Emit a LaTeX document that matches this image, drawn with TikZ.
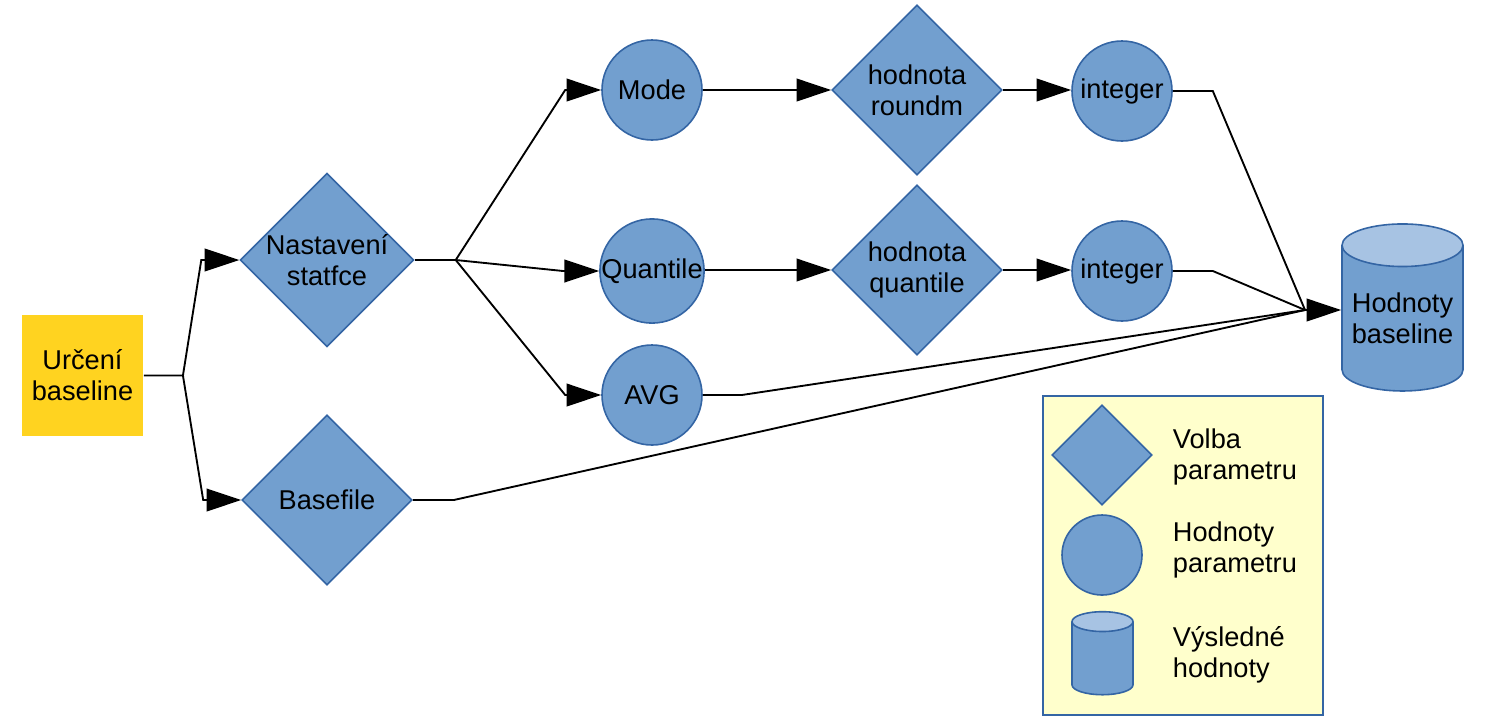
\documentclass[tikz,border=0pt]{standalone}
\usepackage{fontspec}
\setmainfont{Liberation Sans}
\usetikzlibrary{arrows.meta,positioning,shapes.geometric,calc}
\definecolor{nodefill}{HTML}{729FCF}
\definecolor{nodeline}{HTML}{3465A4}
\definecolor{cylend}{HTML}{A7C3E3}
\definecolor{startfill}{HTML}{FFD320}
\definecolor{legendfill}{HTML}{FFFFCC}

\begin{document}
\begin{tikzpicture}[x=0.75pt,y=-0.75pt,
      >={Triangle[length=26pt,width=17pt]},
      line width=1.4pt,
      every node/.style={font=\fontsize{20.4}{23.3}\selectfont,align=center,inner sep=0pt},
      start/.style={rectangle,fill=startfill,minimum width=90.75pt,minimum height=90.75pt},
      choice/.style={diamond,draw=nodeline,fill=nodefill,line width=1.2pt,aspect=1,
        minimum width=127.5pt,minimum height=127.5pt},
      value/.style={circle,draw=nodeline,fill=nodefill,line width=1.2pt,minimum size=75pt},
      store/.style={cylinder,shape border rotate=90,draw=nodeline,line width=1.2pt,
        cylinder uses custom fill,cylinder body fill=nodefill,cylinder end fill=cylend,
        aspect=0.42,minimum width=90.75pt,minimum height=125.25pt},
      legtext/.style={align=left,anchor=west}]
    \useasboundingbox (0,0) rectangle (1494,726);
    \node[start] (start) at (82.5,375.5) {Určení\\baseline};
    \node[choice] (stat) at (327,260) {Nastavení\\statfce};
    \node[choice] (base) at (327,500) {Basefile};
    \node[value] (mode) at (652,90) {Mode};
    \node[value] (quant) at (652,271) {Quantile};
    \node[value] (avg) at (652,395) {AVG};
    \node[choice] (roundm) at (917,90) {hodnota\\roundm};
    \node[choice] (qval) at (917,270) {hodnota\\quantile};
    \node[value] (intm) at (1122,91) {integer};
    \node[value] (intq) at (1122,271) {integer};
    \node[store] (res) at (1402.5,318.5) {Hodnoty\\baseline};
    % legenda
    \node[rectangle,draw=nodeline,fill=legendfill,line width=1pt,
      minimum width=210pt,minimum height=239.25pt] (legend) at (1183,555.5) {};
    \node[choice,minimum width=75pt,minimum height=75pt] (lchoice) at (1102,455) {};
    \node[value,minimum size=60pt] (lvalue) at (1102,555) {};
    \node[store,aspect=0.33,inner sep=22.5pt,minimum width=45.75pt,minimum height=62.25pt]
      (lstore) at (1102.5,663.5) {};
    \node[legtext] (tchoice) at (1172,457) {Volba\\parametru};
    \node[legtext] (tvalue) at (1172,550) {Hodnoty\\parametru};
    \node[legtext] (tstore) at (1172,655) {Výsledné\\hodnoty};
    % spojnice
    \coordinate (split1) at ($(start.east)+(39,0)$);
    \coordinate (split2) at ($(stat.east)+(41,0)$);
    \coordinate (merge) at (1305,310);
    \draw[->] (start.east) -- (split1) -- ($(stat.west)+(-38,0)$) -- (stat.west);
    \draw[->] (split1) -- ($(base.west)+(-38,0)$) -- (base.west);
    \draw (stat.east) -- (split2);
    \draw[->] (split2) -- ($(mode.west)+(-36,0)$) -- (mode.west);
    \draw[->] (split2) -- ($(quant.west)+(-36,0)$) -- (quant.west);
    \draw[->] (split2) -- ($(avg.west)+(-36,0)$) -- (avg.west);
    \draw[->] (mode) -- (roundm);
    \draw[->] (quant.east |- qval) -- (qval);
    \draw[->] (roundm) -- (intm.west |- roundm);
    \draw[->] (qval) -- (intq.west |- qval);
    \draw (intm.east) -- ++(40,0) -- (merge);
    \draw (intq.east) -- ++(40,0) -- (merge);
    \draw (avg.east) -- ++(39,0) -- (merge);
    \draw (base.east) -- ++(41,0) -- (merge);
    \draw[->] (merge) -- (merge -| res.west);
  \end{tikzpicture}
\end{document}
